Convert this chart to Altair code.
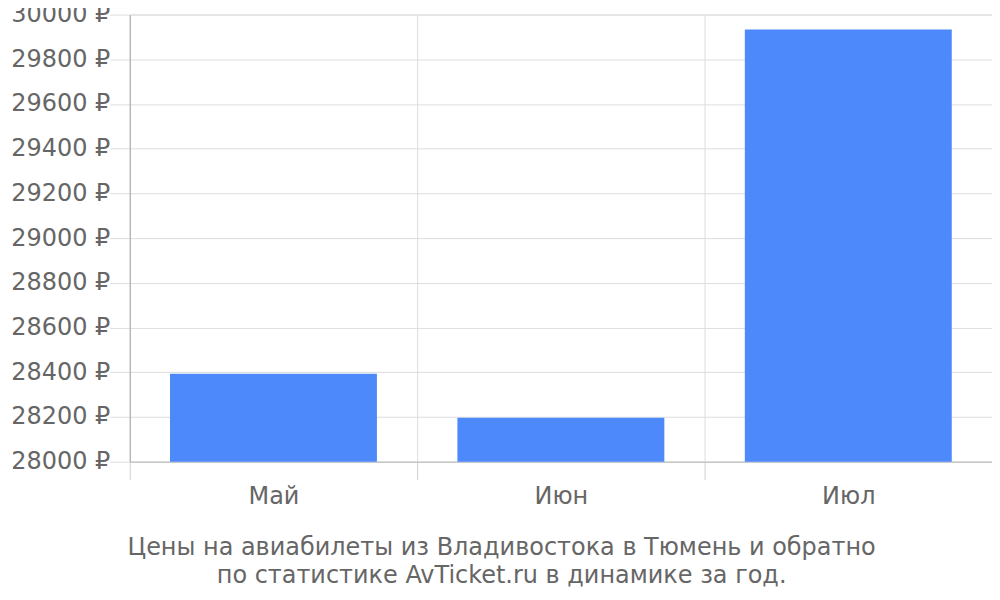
import altair as alt
import pandas as pd

months = ["Май", "Июн", "Июл"]
prices = [28393, 28196, 29933]
y_ticks = [28000, 28200, 28400, 28600, 28800, 29000, 29200, 29400, 29600, 29800, 30000]
title_lines = ["Цены на авиабилеты из Владивостока в Тюмень и обратно",
               "по статистике AvTicket.ru в динамике за год."]

df = pd.DataFrame({"month": months, "price": prices})

chart = alt.Chart(df).mark_bar(color="#4d89fa", width=alt.RelativeBandSize(0.72), clip=True).encode(
    x=alt.X("month:N", sort=months, title=None,
            scale=alt.Scale(paddingInner=0, paddingOuter=0),
            axis=alt.Axis(tickBand="extent", grid=True, gridColor="#dddddd", tickColor="#d0d0d0",
                          tickSize=18, domainColor="#bbbbbb", labelAngle=0, labelFontSize=24,
                          labelColor="#666666", labelFont="DejaVu Sans", labelPadding=5)),
    y=alt.Y("price:Q", title=None,
            scale=alt.Scale(domain=[28000, 30000], zero=False, nice=False),
            axis=alt.Axis(values=y_ticks, labelExpr="format(datum.value, 'd') + ' ₽'",
                          grid=True, gridColor="#dddddd", tickColor="#dddddd", tickSize=20,
                          domainColor="#aaaaaa", labelFontSize=24, labelColor="#666666",
                          labelFont="DejaVu Sans", labelPadding=0)),
).properties(
    width=864, height=448,
    title=alt.TitleParams(text=title_lines, orient="bottom", anchor="middle", frame="bounds",
                          fontSize=24, fontWeight="normal", color="#666666",
                          font="DejaVu Sans", lineHeight=28, offset=28),
    padding={"left": 122, "top": 6, "right": 0, "bottom": 138},
    autosize=alt.AutoSizeParams(type="none"),
).configure_view(stroke="#dddddd")

chart.save("out.html", embed_options={"renderer": "svg", "actions": False})
